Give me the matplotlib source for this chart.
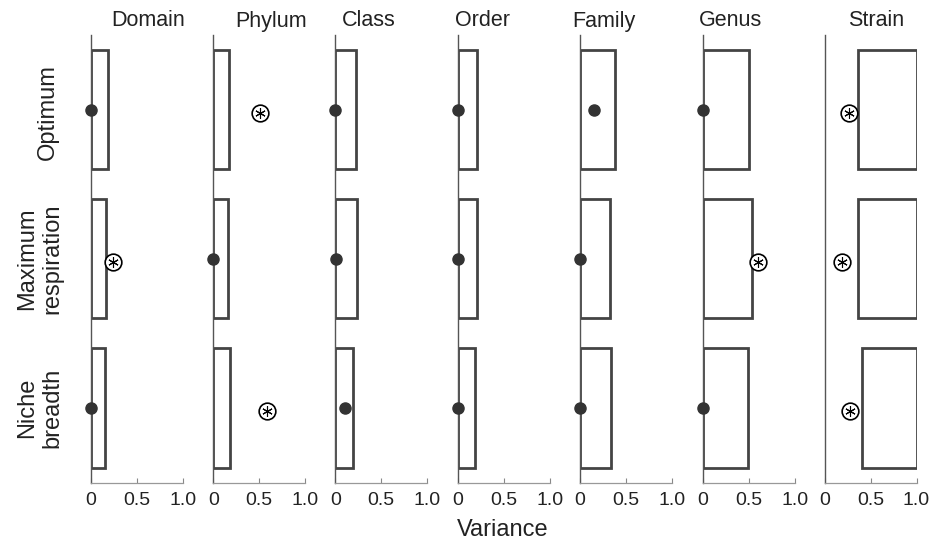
import matplotlib
matplotlib.use("Agg")
import matplotlib.pyplot as plt
import numpy as np

plt.rcParams['font.family'] = ['Liberation Sans', 'DejaVu Sans']

columns = ["Domain", "Phylum", "Class", "Order", "Family", "Genus", "Strain"]
rows = ["Optimum", "Maximum\nrespiration", "Niche\nbreadth"]

# bar extents (variance interval) per row, per column
bar_low = {
    "Optimum":              [0, 0, 0, 0, 0, 0, 0.36],
    "Maximum\nrespiration": [0, 0, 0, 0, 0, 0, 0.36],
    "Niche\nbreadth":       [0, 0, 0, 0, 0, 0, 0.41],
}
bar_high = {
    "Optimum":              [0.18, 0.17, 0.22, 0.21, 0.385, 0.50, 1.0],
    "Maximum\nrespiration": [0.16, 0.16, 0.24, 0.21, 0.33, 0.54, 1.0],
    "Niche\nbreadth":       [0.15, 0.18, 0.19, 0.19, 0.34, 0.49, 1.0],
}
# point estimates
point_val = {
    "Optimum":              [0.0, 0.51, 0.0, 0.0, 0.15, 0.0, 0.27],
    "Maximum\nrespiration": [0.24, 0.0, 0.01, 0.0, 0.0, 0.60, 0.19],
    "Niche\nbreadth":       [0.0, 0.58, 0.11, 0.0, 0.0, 0.0, 0.28],
}
# 1 = circled asterisk, 0 = filled dot
point_star = {
    "Optimum":              [0, 1, 0, 0, 0, 0, 1],
    "Maximum\nrespiration": [1, 0, 0, 0, 0, 1, 1],
    "Niche\nbreadth":       [0, 1, 0, 0, 0, 0, 1],
}
xticks = [0, 0.5, 1.0]
xticklabels = ["0", "0.5", "1.0"]

W, H = 932, 542
fig = plt.figure(figsize=(W / 100, H / 100), dpi=100)

ax_left_px = [91, 213.3, 335.3, 457.7, 580, 702.7, 824.5]
ax_w_px = 92
ax_top_px, ax_bot_px = 35, 482.5
title_x_px = [148, 271.5, 369, 482, 604, 731, 876]

spine_col = "#555555"
bar_col = "#444444"
dot_col = "#333333"

ypos = np.arange(len(rows))
for j, col in enumerate(columns):
    ax = fig.add_axes([ax_left_px[j] / W, 1 - ax_bot_px / H,
                       ax_w_px / W, (ax_bot_px - ax_top_px) / H])
    lo = np.array([bar_low[r][j] for r in rows])
    hi = np.array([bar_high[r][j] for r in rows])
    ax.barh(ypos, hi - lo, left=lo, height=0.8, fill=False,
            edgecolor=bar_col, linewidth=2.0, zorder=2)
    for i, r in enumerate(rows):
        v = point_val[r][j]
        if point_star[r][j]:
            ax.plot([v], [ypos[i] + 0.02], marker='o', ms=12, mfc='white',
                    mec='black', mew=1.2, clip_on=False, zorder=4)
            ax.plot([v], [ypos[i] + 0.02], marker=(6, 2, 0), ms=7.5,
                    color='black', mew=0.8, clip_on=False, zorder=5)
        else:
            ax.plot([v], [ypos[i]], marker='o', ms=8, color=dot_col,
                    clip_on=False, zorder=4)
    ax.set_xlim(0, 1)
    ax.set_ylim(2.5, -0.5)
    ax.set_yticks([])
    ax.set_xticks(xticks)
    ax.set_xticklabels(xticklabels)
    ax.tick_params(axis='x', direction='in', length=3.3, width=0.8,
                   colors='#888888', labelcolor='#222222', labelsize=14, pad=7)
    for s in ['top', 'right']:
        ax.spines[s].set_visible(False)
    ax.spines['left'].set_color(spine_col)
    ax.spines['left'].set_linewidth(1.0)
    ax.spines['bottom'].set_color('#999999')
    ax.spines['bottom'].set_linewidth(0.9)
    ax.patch.set_alpha(0)
    fig.text(title_x_px[j] / W, 1 - 21 / H, col, ha='center', va='center',
             fontsize=15.5, color='#222222')

row_y_px = [112, 259, 408]
row_x_px = [48, 40, 40]
for i, r in enumerate(rows):
    fig.text(row_x_px[i] / W, 1 - row_y_px[i] / H, r, rotation=90, ha='center',
             va='center', fontsize=17, color='#222222', linespacing=1.2,
             multialignment='center')

fig.text(503 / W, 1 - 530 / H, "Variance", ha='center', va='center',
         fontsize=17, color='#222222')

fig.savefig("out.png", dpi=100)
